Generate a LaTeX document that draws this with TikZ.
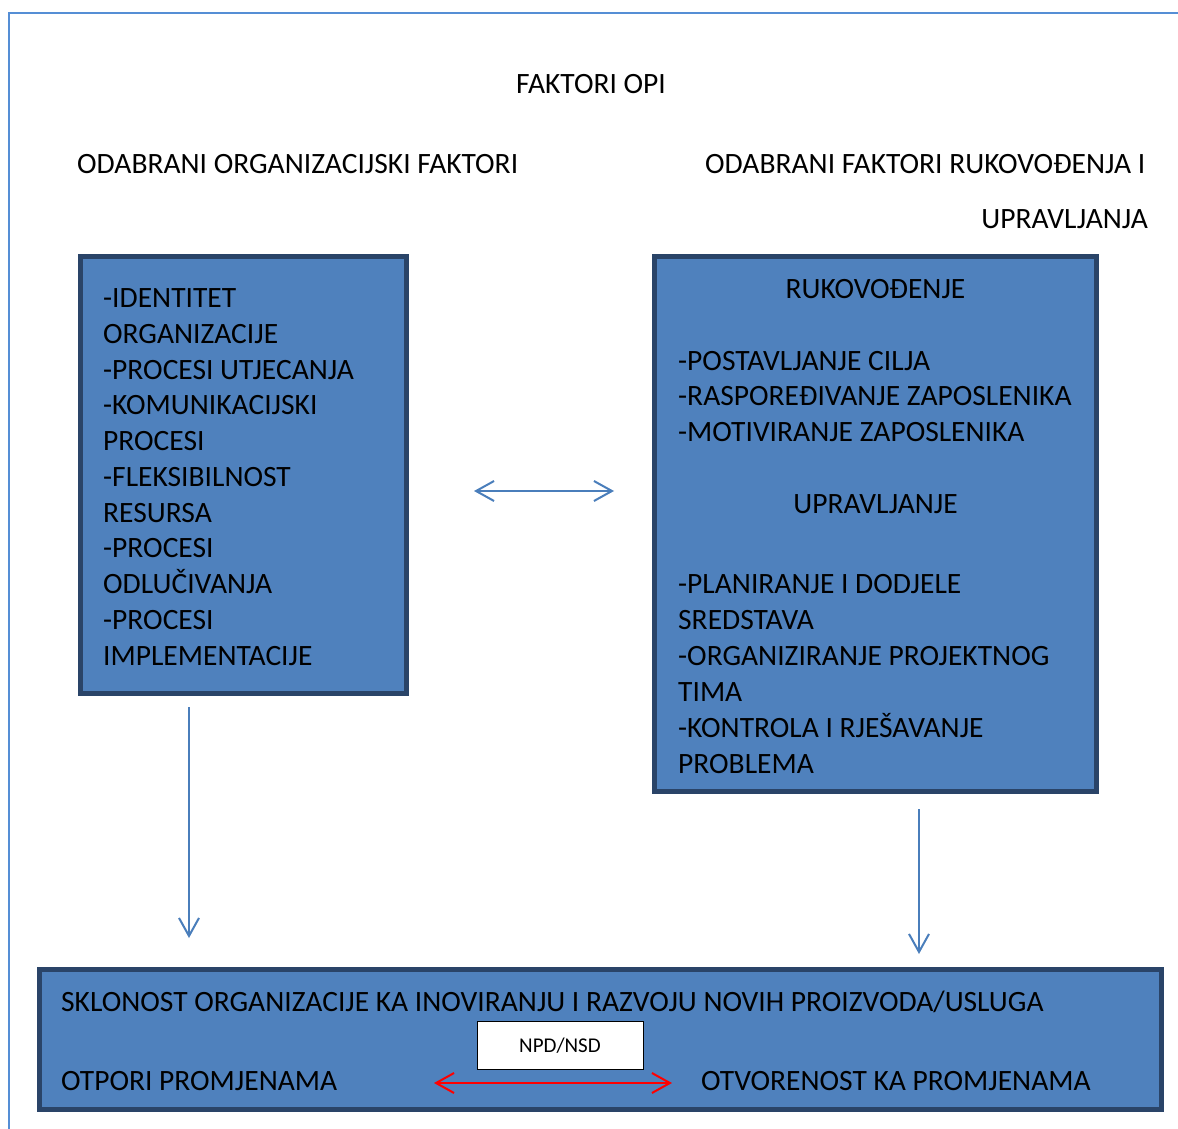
\documentclass[tikz,border=0pt]{standalone}
\usepackage{fontspec}
\setmainfont{Carlito}
\usetikzlibrary{arrows.meta}
\definecolor{boxfill}{HTML}{4F81BD}
\definecolor{boxline}{HTML}{2A4468}
\definecolor{frameblue}{HTML}{558ED5}
\definecolor{arrowblue}{HTML}{4A7EBB}
\begin{document}
\begin{tikzpicture}[x=1pt,y=-1pt,
  bigbox/.style={draw=boxline,fill=boxfill,line width=5pt,inner sep=0pt},
  txt/.style={anchor=base west,inner sep=0pt,font=\fontsize{29.5}{35.8}\selectfont},
  ctxt/.style={anchor=base,inner sep=0pt,font=\fontsize{29.5}{35.8}\selectfont},
  bluearrow/.style={draw=arrowblue,line width=2pt,-{Straight Barb[length=18pt,width=20pt,line width=2pt]}},
  bluedouble/.style={draw=arrowblue,line width=2pt,{Straight Barb[length=18pt,width=20pt,line width=2pt]}-{Straight Barb[length=18pt,width=20pt,line width=2pt]}},
  reddouble/.style={draw=red,line width=2pt,{Straight Barb[length=18pt,width=20pt,line width=2pt]}-{Straight Barb[length=18pt,width=20pt,line width=2pt]}}]
\useasboundingbox (0,0) rectangle (1178,1129);
% page frame
\draw[frameblue,line width=2pt] (9,1129) -- (9,13) -- (1178,13);

% titles
\node[ctxt] (title) at (591,94) {FAKTORI OPI};
\node[txt] (hl) at (77,174) {ODABRANI ORGANIZACIJSKI FAKTORI};
\node[txt] (hr) at (705,174) {ODABRANI FAKTORI RUKOVOĐENJA I};
\node[anchor=base east,inner sep=0pt,font=\fontsize{29.5}{35.8}\selectfont] (hr2) at (1148,228) {UPRAVLJANJA};

% boxes
\node[bigbox,minimum width=325.5pt,minimum height=436.5pt] (L) at (243.25,474.75) {};
\node[bigbox,minimum width=442pt,minimum height=535pt] (R) at (875.5,524) {};
\node[bigbox,minimum width=1122pt,minimum height=140pt] (B) at (600,1039) {};

% left box text
\node[txt] (l1) at (103,307) {-IDENTITET};
\node[txt] (l2) at (103,343) {ORGANIZACIJE};
\node[txt] (l3) at (103,379) {-PROCESI UTJECANJA};
\node[txt] (l4) at (103,414) {-KOMUNIKACIJSKI};
\node[txt] (l5) at (103,450) {PROCESI};
\node[txt] (l6) at (103,486) {-FLEKSIBILNOST};
\node[txt] (l7) at (103,522) {RESURSA};
\node[txt] (l8) at (103,557) {-PROCESI};
\node[txt] (l9) at (103,593) {ODLUČIVANJA};
\node[txt] (l10) at (103,629) {-PROCESI};
\node[txt] (l11) at (103,665) {IMPLEMENTACIJE};

% right box text
\node[ctxt] (r0) at (875.5,298) {RUKOVOĐENJE};
\node[txt] (r1) at (678,370) {-POSTAVLJANJE CILJA};
\node[txt] (r2) at (678,405) {-RASPOREĐIVANJE ZAPOSLENIKA};
\node[txt] (r3) at (678,441) {-MOTIVIRANJE ZAPOSLENIKA};
\node[ctxt] (r4) at (875.5,513) {UPRAVLJANJE};
\node[txt] (r5) at (678,593) {-PLANIRANJE I DODJELE};
\node[txt] (r6) at (678,629) {SREDSTAVA};
\node[txt] (r7) at (678,665) {-ORGANIZIRANJE PROJEKTNOG};
\node[txt] (r8) at (678,701) {TIMA};
\node[txt] (r9) at (678,737) {-KONTROLA I RJEŠAVANJE};
\node[txt] (r10) at (678,773) {PROBLEMA};

% bottom box text
\node[txt] (b1) at (61,1011) {SKLONOST ORGANIZACIJE KA INOVIRANJU I RAZVOJU NOVIH PROIZVODA/USLUGA};
\node[txt] (b2) at (61,1090) {OTPORI PROMJENAMA};
\node[txt] (b3) at (701,1090) {OTVORENOST KA PROMJENAMA};
\node[draw=black,fill=white,line width=1pt,minimum width=166pt,minimum height=47.5pt,inner sep=0pt,font=\fontsize{21}{25}\selectfont] (npd) at (560,1045.5) {NPD/NSD};

% connector end points
\coordinate (da) at (474,491);
\coordinate (db) at (614,491);
\coordinate (la) at (189,707);
\coordinate (lb) at (189,938);
\coordinate (ra) at (919,809);
\coordinate (rb) at (919,954);
\coordinate (ea) at (434,1083);
\coordinate (eb) at (672,1083);

\draw[bluedouble] (da) -- (db);
\draw[bluearrow] (la) -- (lb);
\draw[bluearrow] (ra) -- (rb);
\draw[reddouble] (ea) -- (eb);
\end{tikzpicture}
\end{document}
